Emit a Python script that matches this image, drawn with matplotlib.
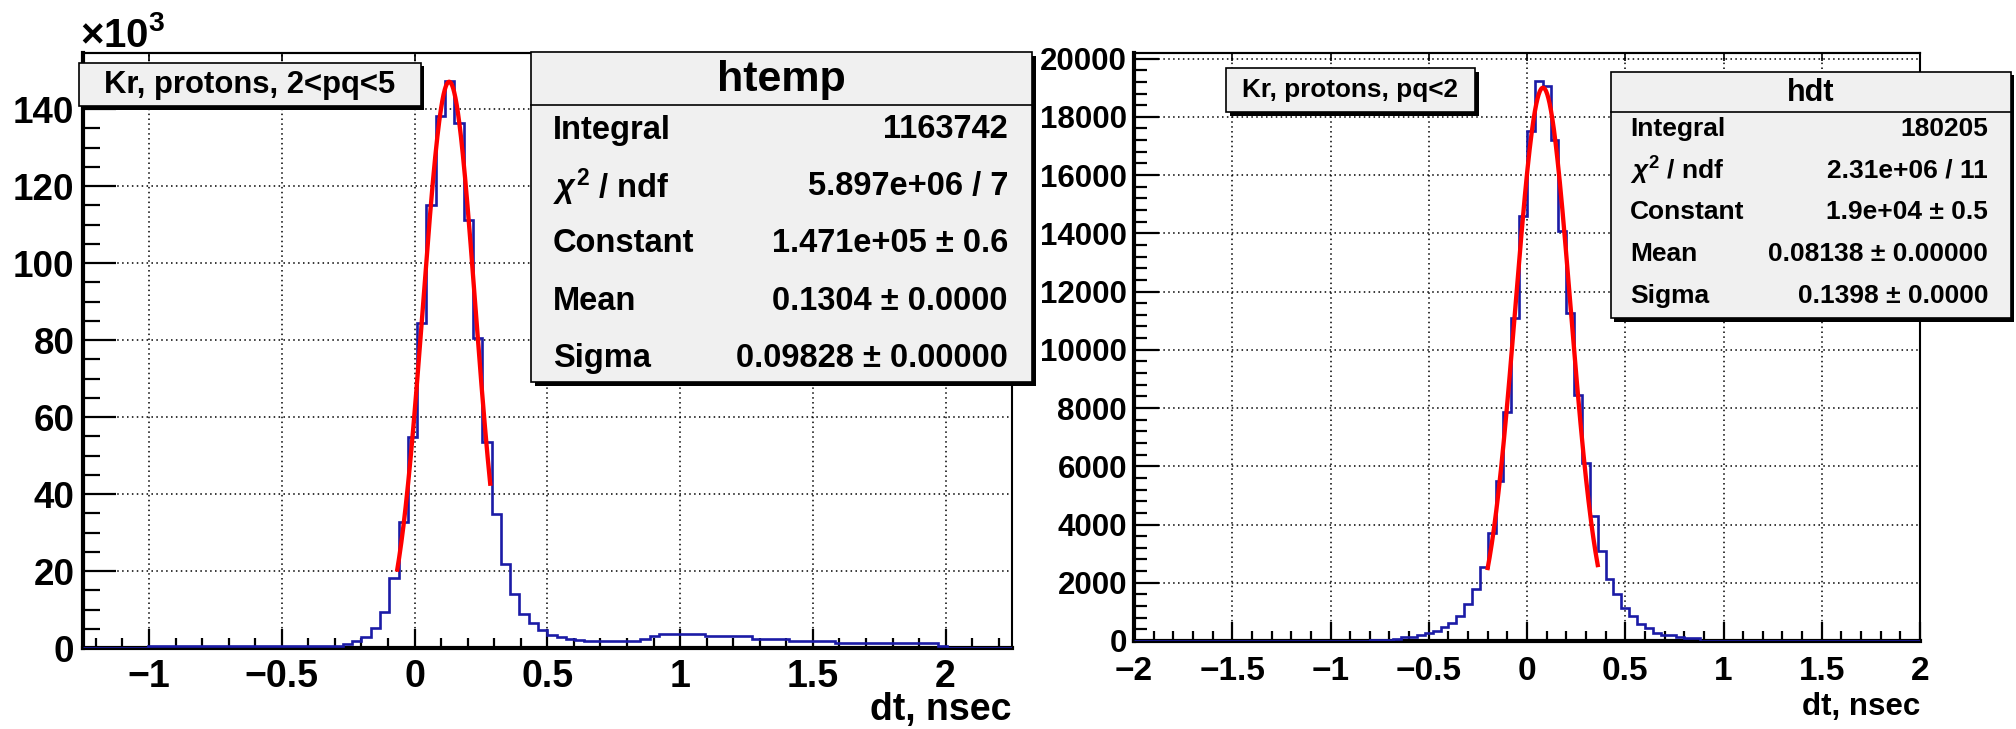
import numpy as np
import matplotlib
matplotlib.use("Agg")
import matplotlib.pyplot as plt
from matplotlib.patches import Rectangle
from matplotlib.lines import Line2D
from matplotlib.ticker import MultipleLocator, FuncFormatter

plt.rcParams['font.family'] = ['Liberation Sans', 'DejaVu Sans']
plt.rcParams['font.weight'] = 'bold'
plt.rcParams['mathtext.fontset'] = 'custom'
plt.rcParams['mathtext.rm'] = 'Liberation Sans:bold'
plt.rcParams['mathtext.bf'] = 'Liberation Sans:bold'
plt.rcParams['mathtext.it'] = 'Liberation Sans:italic'
plt.rcParams['axes.unicode_minus'] = True

# ---------------- data ----------------
# Kr, protons, 2<pq<5  (histogram "htemp", 100 bins on [-1.25, 2.25])
kr25_range = (-1.25, 2.25)
kr25_counts = [
    0, 0, 0, 0, 0, 0, 0,
    400, 400, 400, 400, 400, 400, 400, 400, 400, 400,
    400, 400, 400, 400, 400, 400, 400, 400, 400, 400, 400,
    1000, 1900, 2900, 5300, 9400, 18200, 32800, 54700,
    84400, 115200, 138100, 147200, 136500, 111200, 80600,
    53600, 34800, 21800, 14000, 8800, 6400, 4600, 3500,
    2900, 2400, 2200,
    1750, 1750, 1750, 1750, 1750, 1750,
    2400, 3000,
    3650, 3650, 3650, 3650, 3650,
    3000, 3000, 3000, 3000, 3000,
    2400, 2400, 2400, 2400,
    1900, 1900, 1900, 1900, 1900,
    1300, 1300, 1300, 1300, 1300, 1300, 1300, 1300, 1300, 1300, 1300,
    450,
    0, 0, 0, 0, 0, 0, 0,
]
kr25_title = "Kr, protons, 2<pq<5"
kr25_name = "htemp"
kr25_fit = dict(constant=1.471e5, mean=0.1304, sigma=0.09828, lo=-0.065, hi=0.285)
kr25_stat_labels = ["Integral", r"$\chi^{2}$ / ndf", "Constant", "Mean", "Sigma"]
kr25_stat_values = ["1163742", "5.897e+06 / 7", "1.471e+05 \u00b1 0.6",
                    "0.1304 \u00b1 0.0000", "0.09828 \u00b1 0.00000"]

# Kr, protons, pq<2  (histogram "hdt", 100 bins on [-2, 2])
kr2_range = (-2.0, 2.0)
kr2_counts = [
    0, 0, 0, 0, 0, 0, 12, 0, 0, 0,
    0, 0, 0, 0, 0, 0, 0, 0, 0, 0,
    0, 0, 0, 0, 0, 0, 0, 0, 0, 0,
    50, 50, 50, 60, 130, 150, 220, 260, 360, 480,
    630, 870, 1270, 1770, 2550, 3700, 5500, 7850, 11100, 14600,
    17500, 19230, 19070, 17200, 14070, 11270, 8450, 6100, 4300, 3080,
    2140, 1600, 1140, 870, 600, 430, 290, 220, 190, 130,
    120, 100, 0, 0, 0, 0, 0, 0, 0, 0,
    0, 0, 0, 0, 0, 0, 0, 0, 0, 0,
    0, 0, 0, 0, 0, 0, 0, 0, 0, 0,
]
kr2_title = "Kr, protons, pq<2"
kr2_name = "hdt"
kr2_fit = dict(constant=1.9e4, mean=0.08138, sigma=0.1398, lo=-0.2, hi=0.36)
kr2_stat_labels = ["Integral", r"$\chi^{2}$ / ndf", "Constant", "Mean", "Sigma"]
kr2_stat_values = ["180205", "2.31e+06 / 11", "1.9e+04 \u00b1 0.5",
                   "0.08138 \u00b1 0.00000", "0.1398 \u00b1 0.0000"]

x_label = "dt, nsec"

# ---------------- layout helpers (pixel units, origin top-left) ----------------
W, H, DPI = 2016, 729, 100
HIST_BLUE = '#1b1ba6'
PAVE_FILL = '#f0f0f0'

fig = plt.figure(figsize=(W / DPI, H / DPI), dpi=DPI)
fig.patch.set_facecolor('white')


def fbox(x0, y0, x1, y1):
    return [x0 / W, 1 - y1 / H, (x1 - x0) / W, (y1 - y0) / H]


def fpt(x, y):
    return x / W, 1 - y / H


def pave(x0, y0, x1, y1, shadow=3.5):
    fig.add_artist(Rectangle(fpt(x0 + shadow, y1 + shadow), (x1 - x0) / W, (y1 - y0) / H,
                             transform=fig.transFigure, facecolor='black',
                             edgecolor='none', zorder=10))
    fig.add_artist(Rectangle(fpt(x0, y1), (x1 - x0) / W, (y1 - y0) / H,
                             transform=fig.transFigure, facecolor=PAVE_FILL,
                             edgecolor='black', linewidth=1.2, zorder=11))


def ftext(x, y, s, size, ha='center', va='center'):
    fig.text(*fpt(x, y), s, fontsize=size, ha=ha, va=va, fontweight='bold', zorder=12)


def draw_panel(ax, rng, counts, fit, xmaj, xmin, ymaj, ymin, ylen, xlen,
               xfs, yfs, xpad, ypad, yfmt):
    edges = np.linspace(rng[0], rng[1], len(counts) + 1)
    counts = np.asarray(counts, dtype=float)
    ax.stairs(counts, edges, color=HIST_BLUE, linewidth=1.9, zorder=3)
    xs = np.linspace(fit['lo'], fit['hi'], 300)
    ax.plot(xs, fit['constant'] * np.exp(-0.5 * ((xs - fit['mean']) / fit['sigma']) ** 2),
            color='red', linewidth=3.1, zorder=4)
    ax.set_xlim(*rng)
    ax.set_ylim(0, 1.05 * counts.max())
    ax.xaxis.set_major_locator(MultipleLocator(xmaj))
    ax.xaxis.set_minor_locator(MultipleLocator(xmin))
    ax.yaxis.set_major_locator(MultipleLocator(ymaj))
    ax.yaxis.set_minor_locator(MultipleLocator(ymin))
    ax.yaxis.set_major_formatter(FuncFormatter(yfmt))
    ax.xaxis.set_major_formatter(FuncFormatter(lambda v, p: f"{v:g}".replace('-', '\u2212')))
    ax.tick_params(which='both', direction='in', right=False, top=False, width=1.6,
                   color='black')
    ax.tick_params(axis='y', which='major', length=ylen[0], pad=ypad, labelsize=yfs)
    ax.tick_params(axis='y', which='minor', length=ylen[1])
    ax.tick_params(axis='x', which='major', length=xlen[0], pad=xpad, labelsize=xfs)
    ax.tick_params(axis='x', which='minor', length=xlen[1])
    for lab in ax.get_xticklabels() + ax.get_yticklabels():
        lab.set_fontweight('bold')
    ax.grid(True, which='major', color='black', linestyle=(0, (1, 2.2)), linewidth=1.1)
    ax.set_axisbelow(True)
    ax.spines['left'].set_linewidth(3.0)
    ax.spines['bottom'].set_linewidth(3.0)
    ax.spines['top'].set_linewidth(1.5)
    ax.spines['right'].set_linewidth(1.5)
    top = ax.secondary_xaxis('top')
    top.xaxis.set_major_locator(MultipleLocator(xmaj))
    top.tick_params(direction='in', length=6, width=1.2, labeltop=False)
    top.xaxis.set_minor_locator(MultipleLocator(xmaj))
    top.spines['top'].set_linewidth(1.5)


# ---------------- left panel ----------------
ax1 = fig.add_axes(fbox(82.6, 53, 1012, 648))
draw_panel(ax1, kr25_range, kr25_counts, kr25_fit, 0.5, 0.1, 20000, 5000,
           (24, 12), (14, 7), 27, 26.5, 8, 6,
           lambda v, p: f"{v / 1000:g}")
fig.text(*fpt(80, 47), r"$\times10^{3}$", fontsize=29, ha='left', va='baseline')
fig.text(*fpt(1012, 710), x_label, fontsize=27, ha='right', va='center',
         fontweight='bold')

pave(78.5, 62.7, 420.8, 106)
ftext(249.7, 84.5, kr25_title, 22.3)

# statistics box
sx0, sy0, sx1, sy1, sep = 531, 52, 1032, 382, 105
pave(sx0, sy0, sx1, sy1)
fig.add_artist(Line2D([sx0 / W, sx1 / W], [1 - sep / H] * 2, transform=fig.transFigure,
                      color='black', linewidth=1.2, zorder=12))
ftext((sx0 + sx1) / 2, (sy0 + sep) / 2 + 1, kr25_name, 31)
for i, (lab, val) in enumerate(zip(kr25_stat_labels, kr25_stat_values)):
    yy = 130 + i * 57
    ftext(553, yy, lab, 23.5, ha='left')
    ftext(1008, yy, val, 23.5, ha='right')

# ---------------- right panel ----------------
ax2 = fig.add_axes(fbox(1134, 53, 1920, 641))
draw_panel(ax2, kr2_range, kr2_counts, kr2_fit, 0.5, 0.1, 2000, 400,
           (18, 9), (14, 7), 24, 22.5, 11, 5,
           lambda v, p: f"{v:.0f}")
fig.text(*fpt(1920, 707), x_label, fontsize=22.5, ha='right', va='center',
         fontweight='bold')

pave(1226, 68, 1475, 112)
ftext(1350.5, 90, kr2_title, 18.8)

sx0, sy0, sx1, sy1, sep = 1610.7, 71.7, 2010.7, 318.3, 111.7
pave(sx0, sy0, sx1, sy1)
fig.add_artist(Line2D([sx0 / W, sx1 / W], [1 - sep / H] * 2, transform=fig.transFigure,
                      color='black', linewidth=1.2, zorder=12))
ftext((sx0 + sx1) / 2, (sy0 + sep) / 2 + 1, kr2_name, 22)
for i, (lab, val) in enumerate(zip(kr2_stat_labels, kr2_stat_values)):
    yy = 129 + i * 41.7
    ftext(1630, yy, lab, 19, ha='left')
    ftext(1988, yy, val, 19, ha='right')

fig.savefig("out.png", dpi=DPI, facecolor='white')
